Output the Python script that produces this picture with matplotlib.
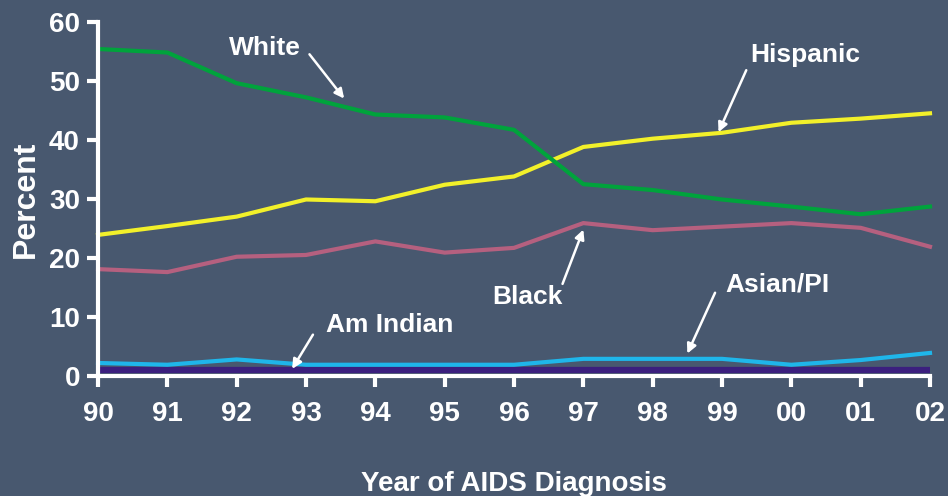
import matplotlib.pyplot as plt
import numpy as np

plt.rcParams['font.family'] = ['Liberation Sans', 'DejaVu Sans']

YEARS = ["90", "91", "92", "93", "94", "95", "96", "97", "98", "99", "00", "01", "02"]
WHITE = [55.4, 54.8, 49.6, 47.2, 44.3, 43.8, 41.7, 32.5, 31.5, 29.9, 28.7, 27.4, 28.7]
HISPANIC = [23.9, 25.4, 27.0, 29.9, 29.6, 32.4, 33.8, 38.8, 40.2, 41.2, 42.9, 43.6, 44.5]
BLACK = [18.1, 17.6, 20.2, 20.5, 22.8, 20.9, 21.7, 25.9, 24.7, 25.3, 25.9, 25.1, 21.9]
ASIAN = [2.2, 1.9, 2.8, 1.9, 1.9, 1.9, 1.9, 2.9, 2.9, 2.9, 1.9, 2.7, 3.9]
AMIND = [1.0, 1.0, 1.0, 1.0, 1.0, 1.0, 1.0, 1.0, 1.0, 1.0, 1.0, 1.0, 1.0]

BG = "#48586f"

fig = plt.figure(figsize=(9.48, 4.96), dpi=100, facecolor=BG)
ax = fig.add_axes([0.1034, 0.242, 0.8776, 0.714])
ax.set_facecolor(BG)

x = np.arange(len(YEARS))
ax.plot(x, AMIND, color="#3b1f7e", lw=4.5, solid_capstyle="butt", clip_on=False)
ax.plot(x, ASIAN, color="#1fb6ea", lw=3, clip_on=False)
ax.plot(x, BLACK, color="#b5607f", lw=3, clip_on=False)
ax.plot(x, HISPANIC, color="#f2f02a", lw=3, clip_on=False)
ax.plot(x, WHITE, color="#00a33c", lw=3, clip_on=False)

ax.set_xlim(0, 12)
ax.set_ylim(0, 60)
ax.set_xticks(x)
ax.set_xticklabels(YEARS)
ax.set_yticks(range(0, 61, 10))

for s in ["top", "right"]:
    ax.spines[s].set_visible(False)
for s in ["left", "bottom"]:
    ax.spines[s].set_color("white")
    ax.spines[s].set_linewidth(3)
ax.tick_params(colors="white", width=3, length=8, labelsize=20, pad=5)
for lab in ax.get_xticklabels() + ax.get_yticklabels():
    lab.set_fontweight("bold")
ax.tick_params(axis="x", pad=10)

ax.set_ylabel("Percent", color="white", fontsize=23, fontweight="bold", labelpad=6)
ax.set_xlabel("Year of AIDS Diagnosis", color="white", fontsize=20,
              fontweight="bold", labelpad=32)

arrow = dict(arrowstyle="-|>", color="white", lw=1.8, mutation_scale=14,
             shrinkA=0, shrinkB=0)
kw = dict(color="white", fontsize=19, fontweight="bold", ha="center", va="center")

ax.text(2.4, 55.5, "White", **kw)
ax.annotate("", xy=(3.55, 47.0), xytext=(3.05, 54.5), arrowprops=arrow)
ax.text(10.2, 54.3, "Hispanic", **kw)
ax.annotate("", xy=(8.95, 41.3), xytext=(9.35, 51.8), arrowprops=arrow)
ax.text(6.2, 13.3, "Black", **kw)
ax.annotate("", xy=(7.0, 24.8), xytext=(6.7, 15.6), arrowprops=arrow)
ax.text(9.8, 15.5, "Asian/PI", **kw)
ax.annotate("", xy=(8.5, 3.8), xytext=(8.9, 14.1), arrowprops=arrow)
ax.text(4.2, 8.6, "Am Indian", **kw)
ax.annotate("", xy=(2.8, 1.2), xytext=(3.1, 7.0), arrowprops=arrow)

fig.savefig("out.png", dpi=100, facecolor=BG)
